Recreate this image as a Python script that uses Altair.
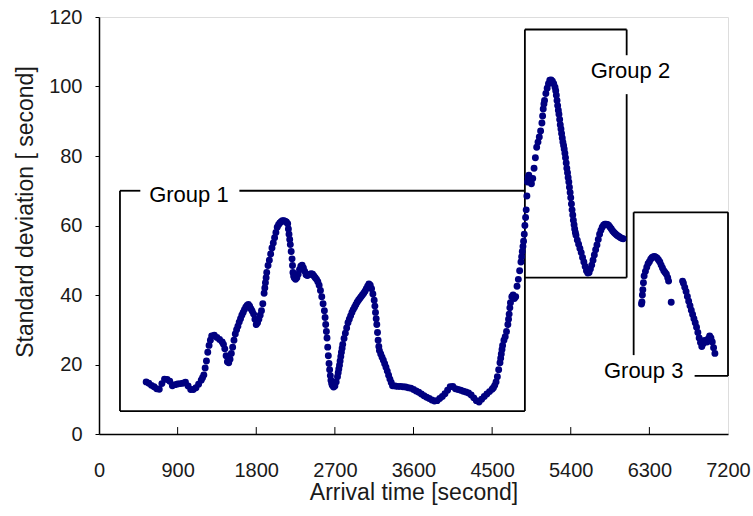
import altair as alt
import pandas as pd

# Moving standard deviation of arrival times: (arrival time [s], std. dev. [s])
group1_readings = [
    (540, 15.0), (570, 14.6), (600, 14.0), (630, 13.6), (660, 13.0), (690, 12.9), (720, 14.5),
    (750, 15.8), (780, 15.7), (810, 15.2), (840, 13.9), (870, 14.2), (900, 14.4), (930, 14.5),
    (960, 14.6), (990, 14.9), (1020, 13.8), (1050, 12.8), (1080, 12.8), (1110, 13.3), (1140, 14.3),
    (1170, 15.5), (1185, 16.2), (1200, 17.0), (1215, 19.0), (1230, 21.0), (1245, 23.5), (1260, 25.5),
    (1275, 27.0), (1290, 28.2), (1320, 28.4), (1350, 27.8), (1380, 27.2), (1410, 26.5), (1425, 25.8),
    (1440, 24.5), (1455, 22.5), (1470, 20.8), (1485, 20.5), (1500, 21.5), (1515, 23.2), (1530, 25.0),
    (1545, 27.0), (1560, 28.8), (1575, 30.0), (1590, 31.0), (1605, 32.2), (1620, 33.2), (1635, 34.2),
    (1650, 35.0), (1665, 35.8), (1680, 36.5), (1695, 37.0), (1710, 37.3), (1725, 36.8), (1740, 36.0),
    (1755, 35.3), (1770, 34.5), (1785, 33.0), (1800, 31.5), (1815, 32.0), (1830, 33.0), (1845, 34.2),
    (1860, 35.5), (1875, 37.5), (1890, 40.5), (1898, 42.0), (1905, 43.5), (1913, 45.0), (1920, 46.5),
    (1935, 48.5), (1950, 50.0), (1965, 51.8), (1980, 53.5), (1995, 55.0), (2010, 56.5), (2025, 58.0),
    (2040, 59.5), (2055, 60.2), (2070, 60.7), (2085, 61.1), (2100, 61.4), (2115, 61.4), (2130, 61.2),
    (2145, 61.0), (2160, 60.5), (2168, 59.0), (2175, 57.5), (2183, 56.0), (2190, 54.5), (2200, 52.5),
    (2210, 50.4), (2215, 48.5), (2220, 46.5), (2228, 45.5), (2235, 45.0), (2250, 44.5), (2265, 45.0),
    (2280, 46.0), (2295, 47.3), (2310, 48.3), (2325, 48.6), (2340, 47.8), (2355, 46.8), (2370, 45.8),
    (2385, 45.6), (2400, 45.8), (2415, 46.0), (2430, 46.1), (2445, 46.0), (2460, 45.5), (2475, 45.0),
    (2490, 44.5), (2505, 43.8), (2520, 42.8), (2535, 41.3), (2550, 39.5), (2565, 37.5), (2580, 35.5),
    (2588, 33.5), (2595, 31.5), (2603, 29.5), (2610, 27.6), (2618, 25.0), (2625, 22.5), (2633, 20.3),
    (2640, 18.5), (2648, 16.8), (2655, 15.5), (2663, 14.6), (2670, 14.0), (2685, 13.5), (2700, 13.8),
    (2715, 15.0), (2730, 16.5), (2738, 17.6), (2745, 18.7), (2753, 19.8), (2760, 21.0), (2768, 22.3),
    (2775, 23.5), (2783, 24.7), (2790, 25.8), (2805, 27.5), (2820, 29.0), (2835, 30.5), (2850, 32.0),
    (2865, 33.0), (2880, 34.0), (2895, 35.0), (2910, 35.8), (2925, 36.5), (2940, 37.2), (2955, 37.9),
    (2970, 38.5), (2985, 39.0), (3000, 39.5), (3015, 40.0), (3030, 40.5), (3045, 41.1), (3060, 41.8),
    (3075, 42.5), (3090, 43.2), (3105, 42.8), (3120, 41.8), (3135, 40.3), (3150, 38.5), (3158, 36.8),
    (3165, 35.0), (3173, 33.2), (3180, 31.5), (3188, 29.2), (3195, 27.0), (3203, 25.2), (3210, 24.0),
    (3225, 23.0), (3240, 22.1), (3255, 21.2), (3270, 20.2), (3285, 19.2), (3300, 18.1), (3315, 16.9),
    (3330, 15.8), (3345, 14.8), (3360, 13.9), (3390, 13.8), (3420, 13.7), (3450, 13.7), (3480, 13.6),
    (3510, 13.5), (3540, 13.3), (3570, 13.2), (3600, 12.8), (3630, 12.4), (3660, 12.0), (3690, 11.5),
    (3720, 11.0), (3750, 10.6), (3780, 10.2), (3810, 9.8), (3840, 9.5), (3870, 9.6), (3900, 10.2),
    (3930, 10.8), (3960, 11.6), (3990, 12.6), (4020, 13.6), (4050, 13.7), (4080, 13.0), (4110, 12.8),
    (4140, 12.6), (4170, 12.3), (4200, 12.1), (4230, 11.8), (4260, 11.2), (4290, 10.4), (4320, 9.6),
    (4350, 9.2), (4380, 10.0), (4410, 10.8), (4440, 11.5), (4470, 12.2), (4500, 12.9), (4515, 13.3),
    (4530, 14.0), (4545, 15.0), (4560, 16.5), (4575, 18.5), (4590, 20.5), (4598, 21.8), (4605, 23.0),
    (4613, 24.3), (4620, 25.5), (4635, 27.0), (4650, 28.0), (4665, 29.5), (4680, 31.5), (4688, 33.0),
    (4695, 34.5), (4703, 36.3), (4710, 37.8), (4725, 39.5), (4740, 40.0), (4755, 39.0), (4770, 39.5),
    (4785, 42.5), (4800, 44.5), (4815, 47.0), (4830, 49.5), (4838, 51.0), (4845, 52.5), (4853, 54.0),
    (4860, 55.5),
]
group2_readings = [
    (4868, 57.5), (4875, 60.0), (4883, 62.3), (4890, 64.5), (4898, 68.5), (4905, 72.5), (4912, 73.8),
    (4920, 74.5), (4935, 73.0), (4950, 72.0), (4965, 73.5), (4980, 76.5), (4995, 79.5), (5010, 82.5),
    (5025, 84.0), (5040, 85.5), (5055, 87.2), (5070, 89.5), (5078, 91.5), (5085, 93.5), (5093, 95.0),
    (5100, 96.0), (5115, 98.0), (5130, 99.5), (5145, 100.8), (5160, 101.8), (5175, 101.9), (5190, 101.5),
    (5205, 100.8), (5220, 99.8), (5228, 98.8), (5235, 97.5), (5243, 96.0), (5250, 94.5), (5258, 93.2),
    (5265, 92.0), (5273, 90.5), (5280, 89.0), (5288, 87.8), (5295, 86.5), (5303, 85.2), (5310, 84.0),
    (5318, 83.0), (5325, 82.0), (5333, 80.8), (5340, 79.5), (5348, 78.0), (5355, 76.5), (5363, 75.2),
    (5370, 73.8), (5378, 72.5), (5385, 71.0), (5393, 69.5), (5400, 68.0), (5408, 66.2), (5415, 64.5),
    (5423, 63.0), (5430, 61.5), (5438, 60.2), (5445, 59.0), (5453, 58.0), (5460, 57.2), (5475, 55.8),
    (5490, 54.6), (5505, 53.4), (5520, 52.2), (5535, 50.8), (5550, 49.5), (5565, 48.2), (5580, 47.0),
    (5595, 46.3), (5610, 46.5), (5625, 47.5), (5640, 48.6), (5655, 50.0), (5670, 51.5), (5685, 53.0),
    (5700, 54.4), (5715, 56.0), (5730, 57.5), (5745, 58.6), (5760, 59.5), (5775, 60.1), (5790, 60.4),
    (5805, 60.4), (5820, 60.3), (5835, 60.0), (5850, 59.5), (5865, 59.0), (5880, 58.4), (5895, 58.0),
    (5910, 57.6), (5925, 57.3), (5940, 57.0), (5955, 56.8), (5970, 56.5), (5985, 56.3), (6000, 56.2),
]
group3_readings = [
    (6210, 37.4), (6215, 38.0), (6220, 40.0), (6225, 41.5), (6232, 43.5), (6240, 45.5), (6255, 46.8),
    (6270, 48.0), (6285, 49.0), (6300, 49.6), (6315, 50.3), (6330, 50.8), (6345, 51.0), (6360, 51.1),
    (6375, 50.9), (6390, 50.6), (6405, 50.1), (6420, 49.5), (6435, 48.6), (6450, 47.8), (6465, 47.0),
    (6480, 46.5), (6495, 46.0), (6510, 45.0), (6520, 44.0), (6550, 37.9), (6680, 44.0), (6690, 43.4),
    (6705, 42.2), (6720, 41.0), (6735, 39.6), (6750, 38.2), (6765, 36.9), (6780, 35.6), (6795, 34.4),
    (6810, 33.2), (6825, 32.0), (6840, 30.7), (6855, 29.2), (6870, 27.6), (6885, 26.3), (6900, 25.2),
    (6915, 26.0), (6930, 26.9), (6945, 26.7), (6960, 26.5), (6975, 27.4), (6990, 28.2), (7005, 27.6),
    (7020, 26.5), (7035, 24.8), (7050, 23.2),
]

x_ticks = [0, 900, 1800, 2700, 3600, 4500, 5400, 6300, 7200]
inner_ticks = [900, 1800, 2700, 3600, 4500, 5400, 6300]
y_ticks = [0, 20, 40, 60, 80, 100, 120]

# Group outlines as line segments (x, y) -> (x2, y2), with gaps left for the labels
seg_x = [240, 240, 240, 1607, 4875, 4875, 6040, 6040, 4875, 6120, 6120, 7200, 6818]
seg_x2 = [240, 4875, 473, 4875, 4875, 6040, 6040, 6040, 6040, 6120, 7200, 7200, 7200]
seg_y = [6.6, 6.6, 70, 70, 6.6, 116.4, 116.4, 97.8, 45, 22.7, 63.8, 16.7, 16.7]
seg_y2 = [70, 6.6, 70, 70, 116.4, 116.4, 109, 45, 45, 63.8, 63.8, 63.8, 16.7]

group_names = ["Group 1", "Group 2", "Group 3"]
group_x = [1029, 6083, 6235]
group_y = [68.9, 104.4, 18.2]

FONT = "Liberation Sans"
INK = "#1a1a1a"

readings = group1_readings + group2_readings + group3_readings
points = pd.DataFrame(readings, columns=["t", "sd"])
ticks_df = pd.DataFrame({"t": inner_ticks, "lo": [0] * len(inner_ticks), "hi": [2.0] * len(inner_ticks)})
segs = pd.DataFrame({"x": seg_x, "x2": seg_x2, "y": seg_y, "y2": seg_y2})
labels = pd.DataFrame({"name": group_names, "x": group_x, "y": group_y})

x_scale = alt.Scale(domain=[0, 7200], nice=False)
y_scale = alt.Scale(domain=[0, 120], nice=False)

x_axis = alt.Axis(
    values=x_ticks, format="d", ticks=False, tickSize=0, grid=False,
    domainColor="black", domainWidth=1.5, labelFlush=False,
    labelFont=FONT, labelFontSize=20, labelColor=INK,
    labelPadding=42, labelBaseline="alphabetic",
    title="Arrival time [second]", titleFont=FONT, titleFontSize=23,
    titleFontWeight="normal", titleColor=INK, titleY=65, titleBaseline="alphabetic",
)
y_axis = alt.Axis(
    values=y_ticks, format="d", tickSize=4, tickColor="black", grid=False,
    domainColor="black", domainWidth=1.5, labelFlush=False,
    labelFont=FONT, labelFontSize=20, labelColor=INK, labelPadding=13,
    title="Standard deviation [ second]", titleFont=FONT, titleFontSize=23,
    titleFontWeight="normal", titleColor=INK, titleAngle=270,
    titleX=-74, titleY=194.5, titleAlign="center", titleBaseline="middle",
)

dots = alt.Chart(points).mark_point(
    shape="circle", filled=True, size=48, color="#000080", opacity=1
).encode(
    x=alt.X("t:Q", scale=x_scale, axis=x_axis),
    y=alt.Y("sd:Q", scale=y_scale, axis=y_axis),
)

inward = alt.Chart(ticks_df).mark_rule(color="black", strokeWidth=1).encode(
    x="t:Q", y="lo:Q", y2="hi:Q"
)

outlines = alt.Chart(segs).mark_rule(color="black", strokeWidth=1.8).encode(
    x="x:Q", x2="x2:Q", y="y:Q", y2="y2:Q"
)

names = alt.Chart(labels).mark_text(
    font=FONT, fontSize=22, color="black", align="center", baseline="middle"
).encode(x="x:Q", y="y:Q", text="name:N")

chart = alt.layer(outlines, inward, dots, names).properties(
    width=629, height=417, autosize="none",
    padding={"left": 99, "top": 17, "right": 25, "bottom": 82},
).configure_view(stroke="#666666", strokeWidth=1).configure(background="white")

chart.save("out.html", embed_options={"renderer": "svg", "actions": False})
